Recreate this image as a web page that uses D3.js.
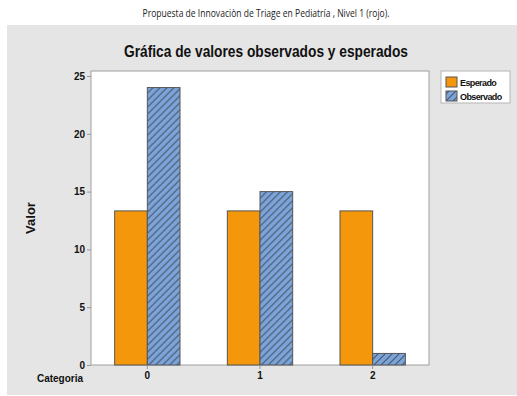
<!DOCTYPE html>
<html>
<head>
<meta charset="utf-8">
<script src="https://cdn.jsdelivr.net/npm/d3@7"></script>
<style>
  body { margin: 0; background: #fff; }
  svg text { font-family: "Liberation Sans", Arial, sans-serif; }
</style>
</head>
<body>
<div id="chart"></div>
<script>
// chart values
var categories = ["0", "1", "2"];
var series = ["Esperado", "Observado"];
var esperado = [13.33, 13.33, 13.33];
var observado = [24, 15, 1];
var yTicks = [0, 5, 10, 15, 20, 25];

var colors = { "Esperado": "#F4970A", "Observado": "url(#hatch)" };

var w = 517, h = 396;
var svg = d3.select("#chart").append("svg")
    .attr("width", w)
    .attr("height", h);

// hatch for observed bars
var pat = svg.append("defs").append("pattern")
    .attr("id", "hatch")
    .attr("patternUnits", "userSpaceOnUse")
    .attr("width", 7)
    .attr("height", 7);
pat.append("rect").attr("width", 7).attr("height", 7).attr("fill", "#7BA4DB");
pat.append("path")
    .attr("d", "M-1,1 L1,-1 M0,7 L7,0 M6,8 L8,6")
    .attr("stroke", "#4a5566")
    .attr("stroke-width", 1.1);

// page subtitle (narrow, like Calibri)
svg.append("text")
    .attr("x", 266).attr("y", 17)
    .attr("text-anchor", "middle")
    .attr("textLength", 247)
    .attr("lengthAdjust", "spacingAndGlyphs")
    .style("font-family", "'Open Sans', sans-serif")
    .style("font-size", "10.5px")
    .attr("fill", "#222")
    .text("Propuesta de Innovaciòn de Triage  en Pediatría , Nivel 1 (rojo).");

// gray panel
svg.append("rect")
    .attr("x", 7).attr("y", 25)
    .attr("width", 510).attr("height", 370)
    .attr("fill", "#E5E5E5");

svg.append("text")
    .attr("x", 266).attr("y", 57)
    .attr("text-anchor", "middle")
    .attr("textLength", 284)
    .attr("lengthAdjust", "spacingAndGlyphs")
    .style("font-size", "16px")
    .style("font-weight", "bold")
    .attr("fill", "#111")
    .text("Gráfica de valores observados y esperados");

var margin = {top: 71, left: 91, right: 429, bottom: 365};

// plot frame
svg.append("rect")
    .attr("x", margin.left).attr("y", margin.top)
    .attr("width", margin.right - margin.left)
    .attr("height", margin.bottom - margin.top)
    .attr("fill", "#fff")
    .attr("stroke", "#a0a0a0")
    .attr("stroke-width", 1);

var x0 = d3.scaleBand().domain(categories)
    .range([margin.left, margin.right])
    .paddingInner(0.42).paddingOuter(0.21);
var x1 = d3.scaleBand().domain(series)
    .range([0, x0.bandwidth()]);
var y = d3.scaleLinear().domain([0, 25]).range([margin.bottom, 76]);

var data = categories.map(function(c, i){
    return { cat: c, vals: [
        { key: "Esperado", value: esperado[i] },
        { key: "Observado", value: observado[i] }
    ]};
});

var groups = svg.append("g").selectAll("g")
    .data(data).enter().append("g")
    .attr("transform", function(d){ return "translate(" + x0(d.cat) + ",0)"; });

groups.selectAll("rect")
    .data(function(d){ return d.vals; })
    .enter().append("rect")
    .attr("x", function(d){ return x1(d.key); })
    .attr("y", function(d){ return y(d.value); })
    .attr("width", x1.bandwidth())
    .attr("height", function(d){ return y(0) - y(d.value); })
    .attr("fill", function(d){ return colors[d.key]; })
    .attr("stroke", "#555")
    .attr("stroke-width", 1);

// y axis
var yAxis = d3.axisLeft(y).tickValues(yTicks).tickSize(4).tickPadding(2);
var gy = svg.append("g")
    .attr("transform", "translate(" + margin.left + ",0)")
    .call(yAxis);
gy.select(".domain").remove();
gy.selectAll("line").attr("stroke", "#999");
gy.selectAll("text")
    .style("font-size", "10px").style("font-weight", "bold")
    .attr("fill", "#111");

// x axis
var xAxis = d3.axisBottom(x0).tickSize(4).tickPadding(3);
var gx = svg.append("g")
    .attr("transform", "translate(0," + margin.bottom + ")")
    .call(xAxis);
gx.select(".domain").remove();
gx.selectAll("line").attr("stroke", "#999");
gx.selectAll("text")
    .style("font-size", "10px").style("font-weight", "bold")
    .attr("fill", "#111");

// axis titles
svg.append("text")
    .attr("x", 60).attr("y", 382)
    .attr("text-anchor", "middle")
    .style("font-size", "10px").style("font-weight", "bold")
    .attr("fill", "#111")
    .text("Categoria");

svg.append("text")
    .attr("transform", "translate(35,218) rotate(-90)")
    .attr("text-anchor", "middle")
    .style("font-size", "13px").style("font-weight", "bold")
    .attr("fill", "#111")
    .text("Valor");

// legend
var lg = svg.append("g").attr("transform", "translate(441,71)");
lg.append("rect")
    .attr("width", 69).attr("height", 32)
    .attr("fill", "#fff")
    .attr("stroke", "#b5b5b5");
series.forEach(function(s, i){
    lg.append("rect")
        .attr("x", 5).attr("y", 6 + i * 14)
        .attr("width", 11).attr("height", 10)
        .attr("fill", colors[s])
        .attr("stroke", "#555");
    lg.append("text")
        .attr("x", 19).attr("y", 14.5 + i * 14)
        .style("font-size", "9px")
        .style("font-weight", "bold")
        .style("letter-spacing", "-0.6px")
        .attr("fill", "#111")
        .text(s);
});
</script>
</body>
</html>
